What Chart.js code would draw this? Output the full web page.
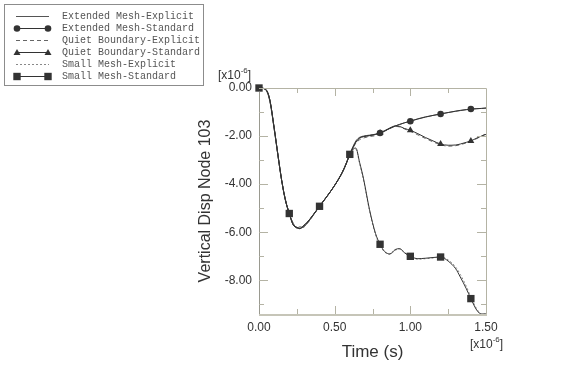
<!DOCTYPE html>
<html>
<head>
<meta charset="utf-8">
<script src="https://cdn.jsdelivr.net/npm/chart.js@4.4.1/dist/chart.umd.min.js"></script>
<style>
    html, body { margin: 0; padding: 0; background: #fff; }
    #wrap { width: 570px; height: 384px; }
</style>
</head>
<body>
<div id="wrap"><canvas id="dispChart"></canvas></div>
<script>
// Time samples, in units of 1e-6 s.
const times = [0, 0.04, 0.07, 0.1, 0.125, 0.15, 0.175, 0.2, 0.225, 0.25,
    0.27, 0.29, 0.32, 0.36, 0.4, 0.45, 0.5, 0.55, 0.575, 0.6,
    0.62, 0.64, 0.665, 0.69, 0.73, 0.77, 0.8, 0.83, 0.865, 0.9,
    0.93, 0.96, 1.0, 1.05, 1.1, 1.15, 1.2, 1.25, 1.3, 1.33,
    1.37, 1.4, 1.44, 1.47, 1.5];

// All models coincide up to t = 0.6 (values in 1e-6).
const earlyExplicit = [0, -0.05, -0.5, -1.7, -2.8, -3.85, -4.65, -5.22, -5.62, -5.82,
    -5.78, -5.8, -5.62, -5.28, -4.92, -4.5, -4.05, -3.5, -3.15, -2.75];
const earlyStandard = [0, -0.04, -0.45, -1.65, -2.78, -3.85, -4.68, -5.22, -5.68, -5.8,
    -5.85, -5.76, -5.58, -5.26, -4.92, -4.5, -4.05, -3.52, -3.17, -2.76];

// After t = 0.6 each model goes its own way.
const extendedExplicitTail = [-2.45, -2.2, -2.05, -2.0, -1.96, -1.92, -1.86, -1.78, -1.68, -1.58,
    -1.52, -1.45, -1.38, -1.28, -1.2, -1.14, -1.08, -1.02, -0.97, -0.94,
    -0.9, -0.88, -0.86, -0.85, -0.84];
const extendedStandardTail = [-2.5, -2.25, -2.08, -2.02, -1.98, -1.93, -1.87, -1.79, -1.68, -1.58,
    -1.51, -1.45, -1.38, -1.29, -1.21, -1.14, -1.08, -1.02, -0.96, -0.93,
    -0.9, -0.875, -0.86, -0.85, -0.83];
const quietExplicitTail = [-2.5, -2.3, -2.15, -2.08, -2.02, -1.98, -1.9, -1.8, -1.68, -1.6,
    -1.62, -1.7, -1.8, -1.95, -2.1, -2.24, -2.36, -2.42, -2.4, -2.36,
    -2.28, -2.22, -2.1, -2.0, -1.9];
const quietStandardTail = [-2.48, -2.25, -2.08, -2.02, -1.98, -1.93, -1.87, -1.78, -1.66, -1.58,
    -1.6, -1.68, -1.76, -1.9, -2.06, -2.2, -2.33, -2.38, -2.37, -2.33,
    -2.26, -2.2, -2.08, -2.0, -1.93];
const smallExplicitTail = [-2.58, -2.55, -3.15, -3.8, -5.1, -6.1, -6.55, -6.82, -6.92, -6.75,
    -6.7, -6.82, -7.02, -7.12, -7.1, -7.07, -7.02, -7.15, -7.45, -7.75,
    -8.25, -8.7, -9.2, -9.4, -9.4];
const smallStandardTail = [-2.55, -2.5, -3.1, -3.75, -5.05, -6.05, -6.5, -6.8, -6.9, -6.72,
    -6.68, -6.85, -7.0, -7.1, -7.08, -7.05, -7.03, -7.2, -7.52, -7.86,
    -8.35, -8.76, -9.25, -9.4, -9.4];

// Standard runs were written out every 0.2.
const markerTimes = [0, 0.2, 0.4, 0.6, 0.8, 1.0, 1.2, 1.4];

const xTicks = [0, 0.5, 1.0, 1.5];
const xMinorTicks = [0.25, 0.75, 1.25];
const yTicks = [0, -2, -4, -6, -8];
const yMinorTicks = [-1, -3, -5, -7, -9];

const ink = '#333333';
const frameColor = '#b4b3a4';

function toPoints(values) {
    return times.map((t, i) => ({ x: t, y: values[i] }));
}

function markerRadius(r, from) {
    return (ctx) => {
        const t = ctx.raw ? ctx.raw.x : -1;
        const hit = markerTimes.some(m => Math.abs(m - t) < 1e-6 && m >= from);
        return hit ? r : 0;
    };
}

const datasets = [
    {
        label: 'Extended Mesh-Explicit',
        data: toPoints(earlyExplicit.concat(extendedExplicitTail)),
        borderColor: '#555555', borderWidth: 1, pointRadius: 0, order: 5
    },
    {
        label: 'Extended Mesh-Standard',
        data: toPoints(earlyStandard.concat(extendedStandardTail)),
        borderColor: ink, borderWidth: 1, order: 2,
        pointStyle: 'circle', pointRadius: markerRadius(3.3, 0.8),
        pointBackgroundColor: ink, pointBorderColor: ink, pointBorderWidth: 0
    },
    {
        label: 'Quiet Boundary-Explicit',
        data: toPoints(earlyExplicit.concat(quietExplicitTail)),
        borderColor: '#666666', borderWidth: 1, borderDash: [4, 3], pointRadius: 0, order: 4
    },
    {
        label: 'Quiet Boundary-Standard',
        data: toPoints(earlyStandard.concat(quietStandardTail)),
        borderColor: ink, borderWidth: 1, order: 1,
        pointStyle: 'triangle', pointRadius: markerRadius(4, 0.8),
        pointBackgroundColor: ink, pointBorderColor: ink, pointBorderWidth: 0
    },
    {
        label: 'Small Mesh-Explicit',
        data: toPoints(earlyExplicit.concat(smallExplicitTail)),
        borderColor: '#888888', borderWidth: 1, borderDash: [2, 2], pointRadius: 0, order: 3
    },
    {
        label: 'Small Mesh-Standard',
        data: toPoints(earlyStandard.concat(smallStandardTail)),
        borderColor: ink, borderWidth: 1, order: 0,
        pointStyle: 'rect', pointRadius: markerRadius(5.2, 0),
        pointBackgroundColor: ink, pointBorderColor: ink, pointBorderWidth: 0
    }
];

// markers may poke out past the frame (the square at t = 0 sits on the corner)
datasets.forEach(ds => { ds.clip = 6; });

function drawMarker(ctx, style, x, y) {
    ctx.beginPath();
    if (style === 'circle') {
        ctx.arc(x, y, 3.3, 0, 2 * Math.PI);
    } else if (style === 'triangle') {
        ctx.moveTo(x, y - 3.5);
        ctx.lineTo(x + 3.5, y + 2.5);
        ctx.lineTo(x - 3.5, y + 2.5);
        ctx.closePath();
    } else if (style === 'rect') {
        ctx.rect(x - 3.7, y - 3.7, 7.4, 7.4);
    }
    ctx.fill();
}

function drawExponent(ctx, x, y) {
    ctx.fillStyle = ink;
    ctx.textBaseline = 'middle';
    ctx.textAlign = 'left';
    ctx.font = '12px "Liberation Sans", Arial, sans-serif';
    ctx.fillText('[x10', x, y);
    let w = ctx.measureText('[x10').width;
    ctx.font = '8px "Liberation Sans", Arial, sans-serif';
    ctx.fillText('-6', x + w, y - 5);
    w += ctx.measureText('-6').width;
    ctx.font = '12px "Liberation Sans", Arial, sans-serif';
    ctx.fillText(']', x + w, y);
}

// Frame, inward ticks, axis titles and the boxed legend.
const decorations = {
    id: 'decorations',
    afterDraw(chart) {
        const { ctx, chartArea: a, scales } = chart;
        const xs = scales.x;
        const ys = scales.y;
        ctx.save();

        // frame
        ctx.strokeStyle = frameColor;
        ctx.lineWidth = 1;
        ctx.beginPath();
        ctx.moveTo(a.left, a.top + 0.5);
        ctx.lineTo(a.right + 0.5, a.top + 0.5);
        ctx.lineTo(a.right + 0.5, a.bottom);
        ctx.stroke();
        ctx.strokeStyle = '#9a9a90';
        ctx.beginPath();
        ctx.moveTo(a.left + 0.5, a.top + 4);
        ctx.lineTo(a.left + 0.5, a.bottom);
        ctx.stroke();
        ctx.strokeStyle = '#c6c5b8';
        ctx.lineWidth = 2;
        ctx.beginPath();
        ctx.moveTo(a.left, a.bottom + 1);
        ctx.lineTo(a.right + 1, a.bottom + 1);
        ctx.stroke();

        // ticks pointing into the plot
        ctx.strokeStyle = frameColor;
        ctx.lineWidth = 1;
        const xTick = (v, len) => {
            const px = Math.round(xs.getPixelForValue(v)) + 0.5;
            ctx.beginPath();
            ctx.moveTo(px, a.bottom);
            ctx.lineTo(px, a.bottom - len);
            ctx.moveTo(px, a.top);
            ctx.lineTo(px, a.top + len);
            ctx.stroke();
        };
        const yTick = (v, len) => {
            const py = Math.round(ys.getPixelForValue(v)) + 0.5;
            ctx.beginPath();
            ctx.moveTo(a.left, py);
            ctx.lineTo(a.left + len, py);
            ctx.moveTo(a.right, py);
            ctx.lineTo(a.right - len, py);
            ctx.stroke();
        };
        xTicks.slice(1, -1).forEach(v => xTick(v, 8));
        xMinorTicks.forEach(v => xTick(v, 5));
        yTicks.slice(1).forEach(v => yTick(v, 9));
        yMinorTicks.forEach(v => yTick(v, 5));

        // axis titles
        ctx.fillStyle = ink;
        ctx.textAlign = 'center';
        ctx.textBaseline = 'middle';
        ctx.font = '17px "Liberation Sans", Arial, sans-serif';
        ctx.fillText('Time (s)', (a.left + a.right) / 2, 352);
        ctx.save();
        ctx.translate(206, (a.top + a.bottom) / 2);
        ctx.rotate(-Math.PI / 2);
        ctx.font = '16px "Liberation Sans", Arial, sans-serif';
        ctx.fillText('Vertical Disp Node 103', 0, 0);
        ctx.restore();

        drawExponent(ctx, a.left - 41, a.top - 12);
        drawExponent(ctx, a.right - 16, 345);

        // legend box
        ctx.strokeStyle = '#8c8c8c';
        ctx.lineWidth = 1;
        ctx.strokeRect(4.5, 4.5, 199, 81);
        chart.data.datasets.forEach((ds, i) => {
            const y = 16.5 + i * 12;
            ctx.strokeStyle = ds.borderColor;
            ctx.fillStyle = ds.borderColor;
            ctx.lineWidth = 1;
            ctx.setLineDash(ds.borderDash || []);
            ctx.beginPath();
            ctx.moveTo(16, y);
            ctx.lineTo(49, y);
            ctx.stroke();
            ctx.setLineDash([]);
            if (ds.pointStyle) {
                drawMarker(ctx, ds.pointStyle, 17, y);
                drawMarker(ctx, ds.pointStyle, 48, y);
            }
            ctx.fillStyle = '#555555';
            ctx.textAlign = 'left';
            ctx.font = '10px "Liberation Mono", "Courier New", monospace';
            ctx.fillText(ds.label, 62, y);
        });

        ctx.restore();
    }
};

new Chart(document.getElementById('dispChart').getContext('2d'), {
    type: 'line',
    data: { datasets: datasets },
    options: {
        responsive: true,
        maintainAspectRatio: false,
        animation: false,
        layout: { padding: { left: 0, right: 84, top: 88, bottom: 0 } },
        elements: { line: { cubicInterpolationMode: 'monotone', fill: false } },
        plugins: {
            legend: { display: false },
            tooltip: { enabled: false }
        },
        scales: {
            x: {
                type: 'linear',
                min: 0,
                max: 1.5,
                grid: { display: false, drawTicks: false },
                border: { display: false },
                afterBuildTicks: (scale) => { scale.ticks = xTicks.map(v => ({ value: v })); },
                afterFit: (scale) => { scale.height = 70; },
                ticks: {
                    padding: 6,
                    color: ink,
                    font: { size: 12, family: '"Liberation Sans", Arial, sans-serif' },
                    callback: (v) => Number(v).toFixed(2)
                }
            },
            y: {
                type: 'linear',
                min: -9.4,
                max: 0,
                grid: { display: false, drawTicks: false },
                border: { display: false },
                afterBuildTicks: (scale) => { scale.ticks = yTicks.map(v => ({ value: v })); },
                afterFit: (scale) => { scale.width = 259; },
                ticks: {
                    padding: 7,
                    color: ink,
                    font: { size: 12, family: '"Liberation Sans", Arial, sans-serif' },
                    callback: (v) => Number(v).toFixed(2)
                }
            }
        }
    },
    plugins: [decorations]
});
</script>
</body>
</html>
